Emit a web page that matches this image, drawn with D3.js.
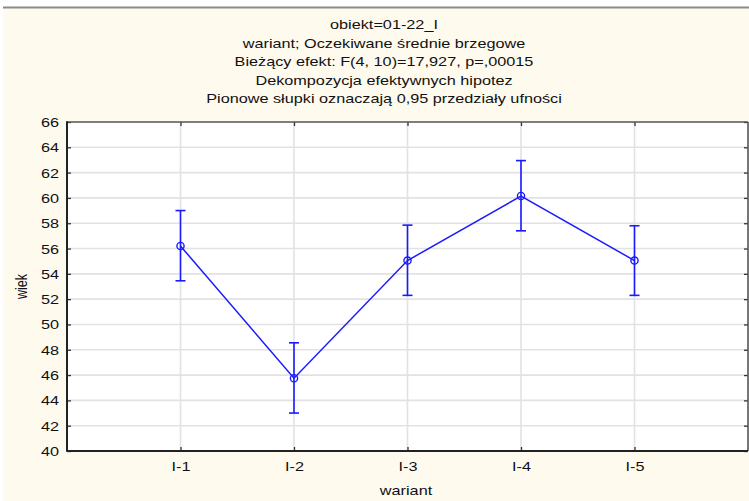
<!DOCTYPE html>
<html>
<head>
<meta charset="utf-8">
<script src="https://cdn.jsdelivr.net/npm/d3@7"></script>
<style>
  html, body { margin: 0; padding: 0; background: #ffffff; }
  svg { display: block; }
  text { font-family: "Liberation Sans", Arial, sans-serif; fill: #111; }
</style>
</head>
<body>
<script>
// Marginal means of age per variant with 0.95 confidence intervals
const categories = ["I-1", "I-2", "I-3", "I-4", "I-5"];
const means = [56.2, 45.75, 55.05, 60.15, 55.05];
const lower = [53.45, 43.0, 52.3, 57.4, 52.3];
const upper = [59.0, 48.55, 57.85, 62.95, 57.8];
const yTicks = [40, 42, 44, 46, 48, 50, 52, 54, 56, 58, 60, 62, 64, 66];
const titleLines = [
  "obiekt=01-22_I",
  "wariant; Oczekiwane średnie brzegowe",
  "Bieżący efekt: F(4, 10)=17,927, p=,00015",
  "Dekompozycja efektywnych hipotez",
  "Pionowe słupki oznaczają 0,95 przedziały ufności"
];
const xTitle = "wariant";
const yTitle = "wiek";

const W = 749, H = 501;
const plot = { left: 67, right: 748, top: 122, bottom: 451 };
const SX = 1.3;          // horizontal text stretch
const blue = "#1a1aff";

const svg = d3.select("body").append("svg").attr("width", W).attr("height", H);

// panel background and top rule
svg.append("rect").attr("x", 3).attr("y", 8).attr("width", W - 3).attr("height", H - 8).attr("fill", "#fffaee");
svg.append("rect").attr("x", 3).attr("y", 6.5).attr("width", W - 3).attr("height", 2).attr("fill", "#8a8a8a");

const x = d3.scaleLinear().domain([0, categories.length + 1]).range([plot.left, plot.right]);
const y = d3.scaleLinear().domain([40, 66]).range([plot.bottom, plot.top]);

// plot area
svg.append("rect")
  .attr("x", plot.left).attr("y", plot.top)
  .attr("width", plot.right - plot.left).attr("height", plot.bottom - plot.top)
  .attr("fill", "#ffffff");

// grid lines
const grid = svg.append("g").attr("stroke", "#e2e2e2").attr("stroke-width", 1.6);
grid.selectAll("line.h").data(yTicks.slice(1, -1)).join("line")
  .attr("x1", plot.left).attr("x2", plot.right)
  .attr("y1", d => y(d)).attr("y2", d => y(d));
grid.selectAll("line.v").data(categories).join("line")
  .attr("x1", (d, i) => x(i + 1)).attr("x2", (d, i) => x(i + 1))
  .attr("y1", plot.top).attr("y2", plot.bottom);

// axes with inward ticks on all four sides
const tickFmt = () => "";
const axL = svg.append("g").attr("transform", `translate(${plot.left},0)`)
  .call(d3.axisLeft(y).tickValues(yTicks).tickSize(-4).tickPadding(0));
const axR = svg.append("g").attr("transform", `translate(${plot.right},0)`)
  .call(d3.axisRight(y).tickValues(yTicks).tickSize(-4).tickFormat(tickFmt));
const xTickScale = d3.scalePoint().domain(categories).range([x(1), x(categories.length)]);
const axB = svg.append("g").attr("transform", `translate(0,${plot.bottom})`)
  .call(d3.axisBottom(xTickScale).tickSize(-4).tickPadding(0));
const axT = svg.append("g").attr("transform", `translate(0,${plot.top})`)
  .call(d3.axisTop(xTickScale).tickSize(-4).tickFormat(tickFmt));

[axL, axR, axB, axT].forEach(a => {
  a.select(".domain").remove();
  a.selectAll(".tick line").attr("stroke", "#333").attr("stroke-width", 1.3);
});

axL.selectAll(".tick text")
  .attr("x", null).attr("dy", null)
  .attr("font-size", 12.5).attr("text-anchor", "end")
  .attr("transform", `translate(-8,4.5) scale(${SX},1)`)
  .style("font-family", "'Liberation Sans', Arial, sans-serif").attr("fill", "#111");
axB.selectAll(".tick text")
  .attr("y", null).attr("dy", null)
  .attr("font-size", 12.5).attr("text-anchor", "middle")
  .attr("transform", `translate(0,19.5) scale(${SX},1)`)
  .style("font-family", "'Liberation Sans', Arial, sans-serif").attr("fill", "#111");

// frame
svg.append("line").attr("x1", plot.left).attr("x2", plot.right).attr("y1", plot.top).attr("y2", plot.top)
  .attr("stroke", "#555").attr("stroke-width", 1.6);
svg.append("line").attr("x1", plot.right).attr("x2", plot.right).attr("y1", plot.top).attr("y2", plot.bottom)
  .attr("stroke", "#555").attr("stroke-width", 1.6);
svg.append("line").attr("x1", plot.left).attr("x2", plot.left).attr("y1", plot.top - 0.8).attr("y2", plot.bottom + 0.8)
  .attr("stroke", "#222").attr("stroke-width", 2);
svg.append("line").attr("x1", plot.left).attr("x2", plot.right).attr("y1", plot.bottom).attr("y2", plot.bottom)
  .attr("stroke", "#222").attr("stroke-width", 2);

// titles
svg.append("g").selectAll("text").data(titleLines).join("text")
  .attr("transform", (d, i) => `translate(384,${29 + i * 18.6}) scale(${SX},1)`)
  .attr("text-anchor", "middle").attr("font-size", 12.5)
  .text(d => d);

svg.append("text")
  .attr("transform", `translate(406,495) scale(${SX},1)`)
  .attr("text-anchor", "middle").attr("font-size", 12.5)
  .text(xTitle);
svg.append("text")
  .attr("transform", `translate(26.5,${(plot.top + plot.bottom) / 2}) scale(${SX},1) rotate(-90)`)
  .attr("text-anchor", "middle").attr("font-size", 12.5)
  .text(yTitle);

// series
const pts = categories.map((c, i) => ({ c, i, m: means[i], lo: lower[i], hi: upper[i] }));

svg.append("path").datum(pts)
  .attr("fill", "none").attr("stroke", blue).attr("stroke-width", 1.5)
  .attr("d", d3.line().x(d => x(d.i + 1)).y(d => y(d.m)));

const eb = svg.append("g").attr("stroke", blue).attr("stroke-width", 1.6).attr("fill", "none");
eb.selectAll("line.bar").data(pts).join("line")
  .attr("x1", d => x(d.i + 1)).attr("x2", d => x(d.i + 1))
  .attr("y1", d => y(d.lo)).attr("y2", d => y(d.hi));
eb.selectAll("line.capHi").data(pts).join("line")
  .attr("x1", d => x(d.i + 1) - 5).attr("x2", d => x(d.i + 1) + 5)
  .attr("y1", d => y(d.hi)).attr("y2", d => y(d.hi));
eb.selectAll("line.capLo").data(pts).join("line")
  .attr("x1", d => x(d.i + 1) - 5).attr("x2", d => x(d.i + 1) + 5)
  .attr("y1", d => y(d.lo)).attr("y2", d => y(d.lo));

svg.append("g").selectAll("circle").data(pts).join("circle")
  .attr("cx", d => x(d.i + 1)).attr("cy", d => y(d.m)).attr("r", 3.6)
  .attr("fill", "none").attr("stroke", blue).attr("stroke-width", 1.4);
</script>
</body>
</html>
